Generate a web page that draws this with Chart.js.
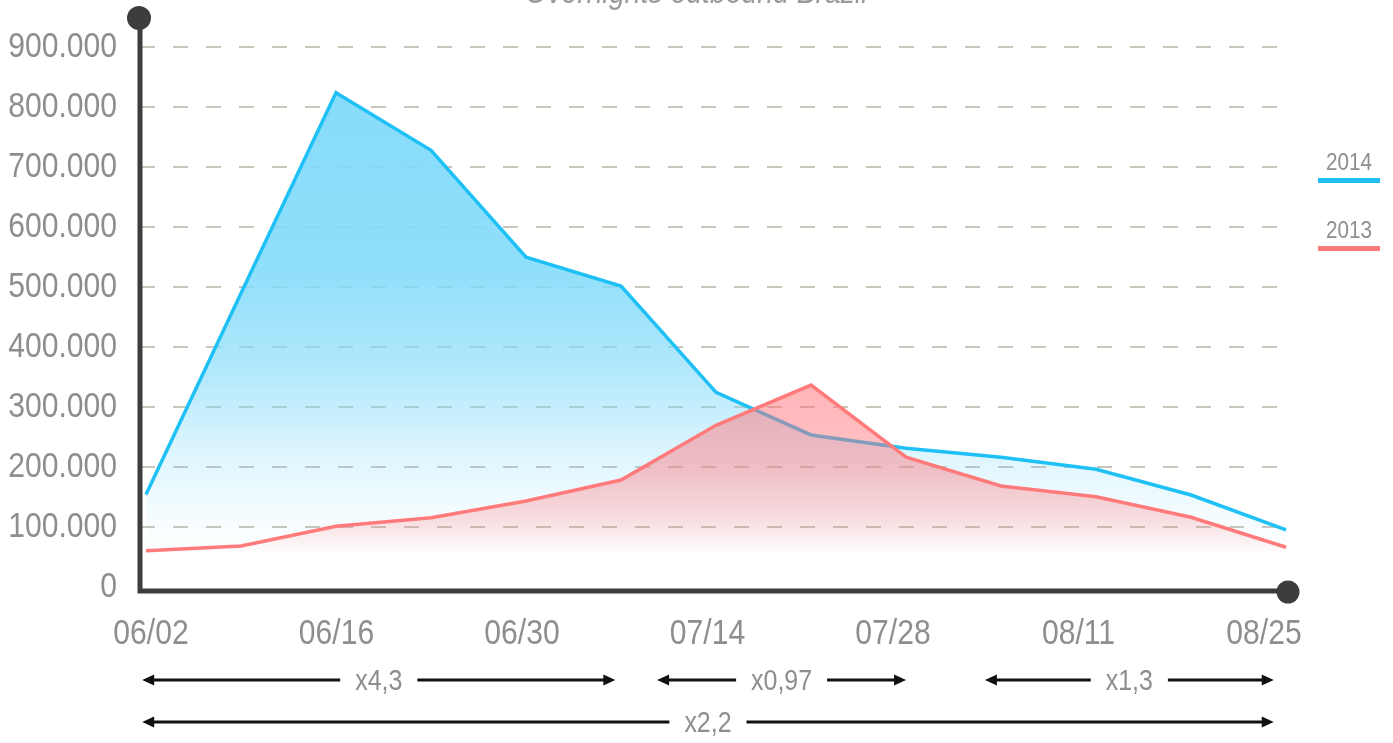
<!DOCTYPE html>
<html>
<head>
<meta charset="utf-8">
<script src="https://cdn.jsdelivr.net/npm/chart.js@4"></script>
<style>
  html, body { margin: 0; padding: 0; background: #fff; overflow: hidden; }
  #wrap { position: relative; width: 1393px; height: 743px; overflow: hidden; }
  #holder { position: absolute; left: 0; top: -40px; width: 1393px; height: 783px; }
</style>
</head>
<body>
<div id="wrap"><div id="holder"><canvas id="c" width="1393" height="783"></canvas></div></div>
<script>
// ---- data ----
const weeks = ['06/02','06/09','06/16','06/23','06/30','07/07','07/14','07/21','07/28','08/04','08/11','08/18','08/25'];
const tickLabels = ['06/02','06/16','06/30','07/14','07/28','08/11','08/25'];
const series2014 = [155000, 490000, 824000, 728000, 550000, 502000, 325000, 254000, 232000, 217000, 197000, 154000, 96000];
const series2013 = [61000, 69000, 102000, 116000, 144000, 179000, 270000, 337000, 217000, 169000, 151000, 117000, 67000];
const seriesNames = ['2014', '2013'];
const ratioLabels = ['x4,3', 'x0,97', 'x1,3', 'x2,2'];
const ratioFrom = [-0.04, 5.38, 8.83, -0.04];
const ratioTo = [4.94, 8.0, 11.87, 11.87];
const ratioRow = [0, 0, 0, 1];
const titleText = 'Overnights outbound Brazil';

// ---- styling ----
const FONT = "'Liberation Sans', Arial, sans-serif";
const GREY = '#8e8e8e';
const AXIS = '#3d3d3d';
const BLUE = '#1ec0f6';
const RED = '#ff7b7b';
const K = 0.86; // horizontal condensing of the text

const canvas = document.getElementById('c');
const c2d = canvas.getContext('2d');
const origFill = c2d.fillText;
c2d.fillText = function (t, x, y, mw) {
  this.save(); this.translate(x, y); this.scale(K, 1);
  origFill.call(this, t, 0, 0);
  this.restore();
};
const origMeasure = c2d.measureText;
c2d.measureText = function (t) {
  const m = origMeasure.call(this, t);
  return {
    width: m.width * K,
    actualBoundingBoxAscent: m.actualBoundingBoxAscent,
    actualBoundingBoxDescent: m.actualBoundingBoxDescent,
    actualBoundingBoxLeft: m.actualBoundingBoxLeft * K,
    actualBoundingBoxRight: m.actualBoundingBoxRight * K,
    fontBoundingBoxAscent: m.fontBoundingBoxAscent,
    fontBoundingBoxDescent: m.fontBoundingBoxDescent
  };
};

function fmt(v) { return String(v).replace(/\B(?=(\d{3})+(?!\d))/g, '.'); }

function gradFill(rgb, aTop, vTop, vBottom, stops) {
  return (ctx) => {
    const chart = ctx.chart;
    if (!chart.chartArea) return 'rgba(' + rgb + ',' + aTop + ')';
    const y = chart.scales.y;
    const g = chart.ctx.createLinearGradient(0, y.getPixelForValue(vTop), 0, y.getPixelForValue(vBottom));
    stops.forEach(s => g.addColorStop(s[0], 'rgba(' + rgb + ',' + s[1] + ')'));
    return g;
  };
}

const decor = {
  id: 'decor',
  afterDraw(chart) {
    const c = chart.ctx, a = chart.chartArea;
    const x = chart.scales.x;
    c.save();
    // axes
    c.strokeStyle = AXIS; c.fillStyle = AXIS; c.lineWidth = 5; c.lineCap = 'butt';
    const axisY = a.bottom + 3.5;
    c.beginPath();
    c.moveTo(a.left, a.top - 29);
    c.lineTo(a.left, axisY + 2.5);
    c.moveTo(a.left - 2.5, axisY);
    c.lineTo(a.right, axisY);
    c.stroke();
    c.beginPath(); c.arc(a.left - 1, a.top - 29, 12, 0, Math.PI * 2); c.fill();
    c.beginPath(); c.arc(a.right, axisY + 1, 11.5, 0, Math.PI * 2); c.fill();

    // legend
    chart.data.datasets.forEach((ds, i) => {
      const ty = a.top + 116 + i * 68;
      c.font = '24px ' + FONT;
      c.fillStyle = GREY; c.textAlign = 'center'; c.textBaseline = 'middle';
      c.fillText(ds.label, a.right + 61, ty);
      c.fillStyle = ds.borderColor;
      c.fillRect(a.right + 30, ty + 15, 62, 5);
    });

    // ratio arrows
    c.font = '29px ' + FONT;
    ratioLabels.forEach((lab, i) => {
      const x1 = x.getPixelForValue(ratioFrom[i]);
      const x2 = x.getPixelForValue(ratioTo[i]);
      const yy = a.bottom + 92.5 + ratioRow[i] * 42;
      const mid = (x1 + x2) / 2;
      const tw = c.measureText(lab).width;
      c.fillStyle = GREY; c.textAlign = 'center'; c.textBaseline = 'middle';
      c.fillText(lab, mid, yy + 2);
      c.strokeStyle = '#111'; c.fillStyle = '#111'; c.lineWidth = 3;
      c.beginPath();
      c.moveTo(x1 + 8, yy); c.lineTo(mid - tw / 2 - 15, yy);
      c.moveTo(mid + tw / 2 + 15, yy); c.lineTo(x2 - 8, yy);
      c.stroke();
      c.beginPath(); c.moveTo(x1, yy); c.lineTo(x1 + 12, yy - 5.5); c.lineTo(x1 + 12, yy + 5.5); c.closePath(); c.fill();
      c.beginPath(); c.moveTo(x2, yy); c.lineTo(x2 - 12, yy - 5.5); c.lineTo(x2 - 12, yy + 5.5); c.closePath(); c.fill();
    });
    c.restore();
  }
};

const toPts = arr => arr.map((v, i) => ({ x: i, y: v }));

new Chart(canvas, {
  type: 'line',
  data: {
    labels: weeks,
    datasets: [
      {
        label: seriesNames[0],
        data: toPts(series2014),
        borderColor: BLUE,
        borderWidth: 3.5,
        pointRadius: 0,
        tension: 0,
        fill: 'origin',
        order: 2,
        backgroundColor: gradFill('128,218,250', 0.9, 850000, 55000,
          [[0, 0.95], [0.4, 0.88], [0.62, 0.6], [0.78, 0.28], [0.9, 0.1], [1, 0]])
      },
      {
        label: seriesNames[1],
        data: toPts(series2013),
        borderColor: RED,
        borderWidth: 3.5,
        pointRadius: 0,
        tension: 0,
        fill: 'origin',
        order: 1,
        backgroundColor: gradFill('255,112,118', 0.5, 340000, 55000,
          [[0, 0.52], [0.5, 0.42], [0.8, 0.22], [1, 0]])
      }
    ]
  },
  options: {
    responsive: false,
    animation: false,
    events: [],
    layout: { padding: { left: 0, right: 0, top: 0, bottom: 0 } },
    plugins: {
      legend: { display: false },
      tooltip: { enabled: false },
      title: {
        display: true,
        text: titleText,
        color: '#9a9a9a',
        font: { family: FONT, size: 33, style: 'italic', weight: 'normal', lineHeight: 1.2 },
        padding: { top: 14, bottom: 33.4 }
      }
    },
    scales: {
      x: {
        type: 'linear',
        display: false,
        min: -0.063,
        max: 12.02
      },
      xl: {
        type: 'linear',
        position: 'bottom',
        min: -0.0594,
        max: 6.1295,
        grid: { display: false, drawTicks: false },
        border: { display: false },
        ticks: {
          includeBounds: false,
          stepSize: 1,
          autoSkip: false,
          maxRotation: 0,
          padding: 26,
          color: GREY,
          font: { family: FONT, size: 35 },
          callback: v => Number.isInteger(v) ? tickLabels[v] : ''
        },
        afterFit: s => { s.height = 155.5; }
      },
      y: {
        min: 0,
        max: 900000,
        grid: {
          drawTicks: false,
          lineWidth: 2,
          color: ctx => ctx.tick && ctx.tick.value === 0 ? 'rgba(0,0,0,0)' : '#c9c6b9'
        },
        border: { display: false, dash: [15, 18] },
        ticks: {
          stepSize: 100000,
          padding: 23,
          color: GREY,
          font: { family: FONT, size: 35 },
          callback: v => fmt(v)
        },
        afterFit: s => { s.width = 140; }
      },
      yr: {
        type: 'linear',
        position: 'right',
        min: 0,
        max: 1,
        grid: { display: false, drawTicks: false },
        border: { display: false },
        ticks: { display: false },
        afterFit: s => { s.width = 105; }
      }
    }
  },
  plugins: [decor]
});
</script>
</body>
</html>
